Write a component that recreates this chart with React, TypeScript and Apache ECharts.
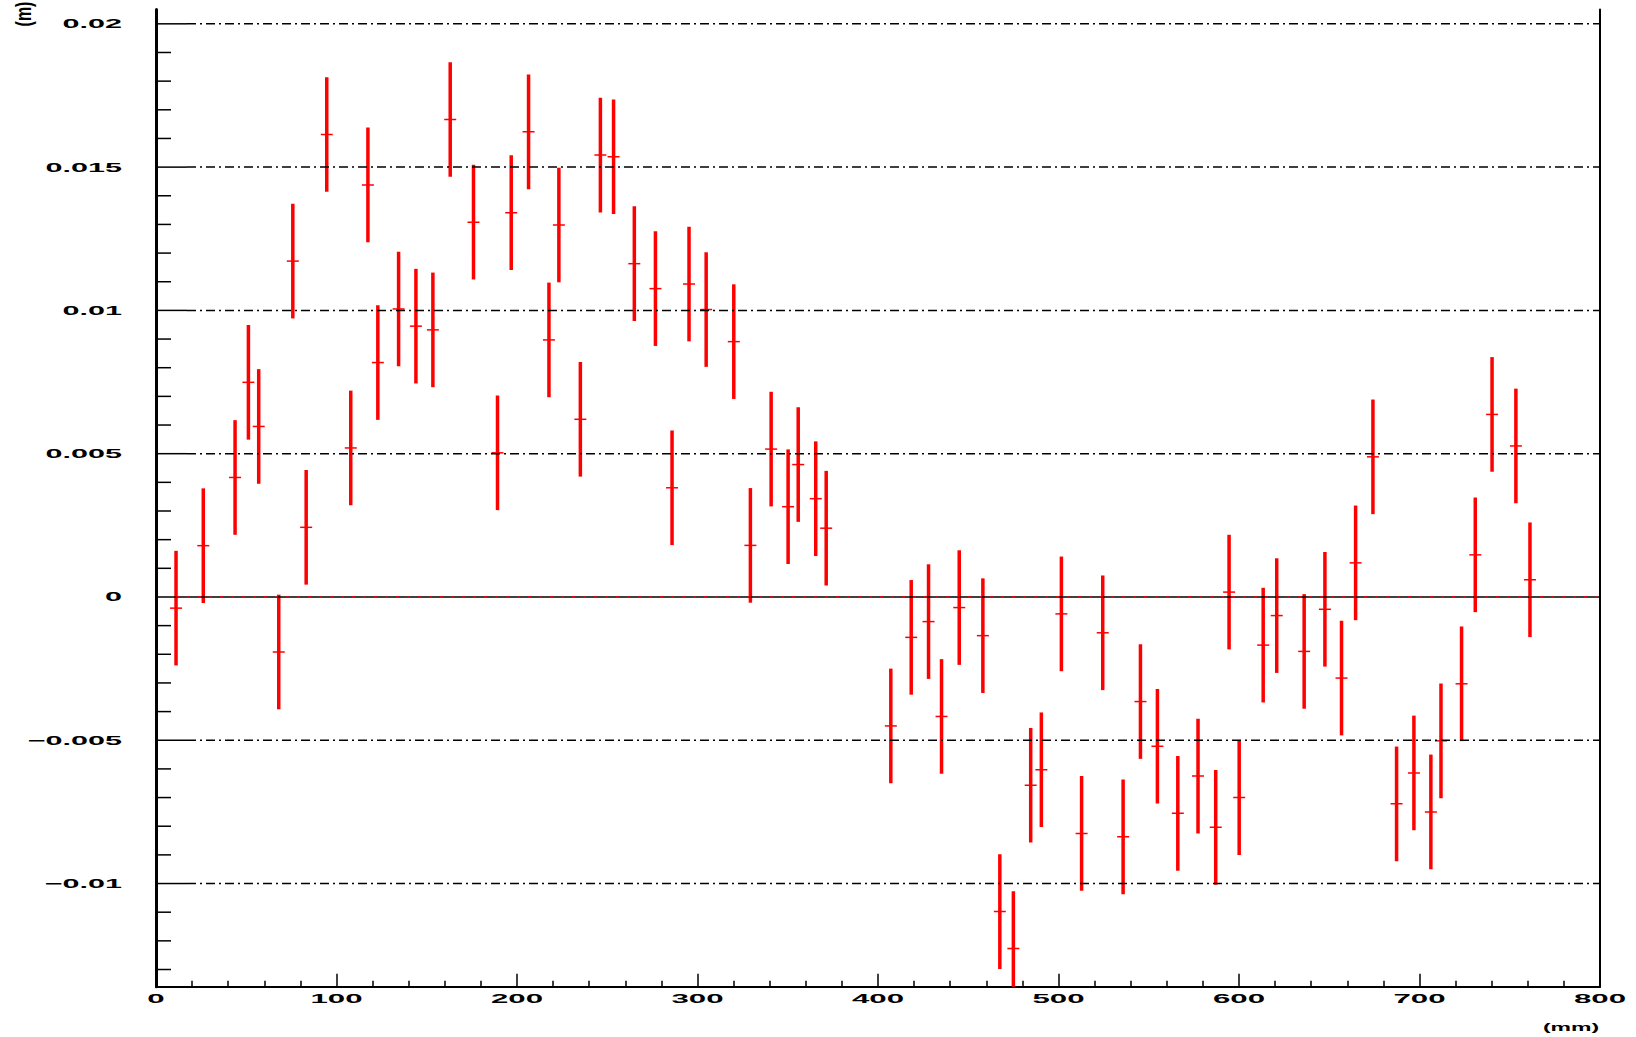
import React, { useEffect, useRef } from 'react';
import * as echarts from 'echarts';

// ---- axis ranges ----
const X_MIN = 0;
const X_MAX = 800;
const Y_MIN = -0.0136;
const Y_MAX = 0.0205;

// ---- tick values / labels ----
const xTickValues = [0, 100, 200, 300, 400, 500, 600, 700, 800];
const xTickLabels = ['0', '100', '200', '300', '400', '500', '600', '700', '800'];
const yMajorTicks = [-0.01, -0.005, 0, 0.005, 0.01, 0.015, 0.02];
const yTickLabels = ['\u22120.01', '\u22120.005', '0', '0.005', '0.01', '0.015', '0.02'];
const yMinorTicks = [
  -0.013, -0.012, -0.011, -0.009, -0.008, -0.007, -0.006, -0.004, -0.003, -0.002, -0.001,
  0.001, 0.002, 0.003, 0.004, 0.006, 0.007, 0.008, 0.009, 0.011, 0.012, 0.013, 0.014,
  0.016, 0.017, 0.018, 0.019,
];

// ---- data ----
const xPositions = [
  11.1, 26.2, 43.8, 51.2, 56.9, 68.0, 75.8, 83.2, 94.6, 107.9, 117.4, 122.9, 134.4, 144.0, 153.4,
  163.0, 175.9, 189.2, 196.8, 206.4, 217.7, 223.2, 235.1, 246.2, 253.5, 265.0, 276.7, 285.9, 295.3, 304.8, 320.1,
  329.3, 340.8, 350.2, 355.8, 365.5, 371.3, 407.1, 418.4, 428.0, 435.2, 445.0, 458.1,
  467.5, 475.0, 484.6, 490.5, 501.6, 512.8, 524.5, 535.8, 545.4, 554.8, 566.1, 577.3, 587.1, 594.5, 600.1,
  613.4, 620.9, 636.1, 647.6, 656.8, 664.6, 674.2, 687.3, 696.9, 706.3, 711.9, 723.3, 730.9, 740.2, 753.4, 761.2,
];
const yValues = [
  -0.00039, 0.00179, 0.00417, 0.00749, 0.00595, -0.00192, 0.01172, 0.00243, 0.01614, 0.0052, 0.01438, 0.00818, 0.01005, 0.00945, 0.00932,
  0.01666, 0.01308, 0.00503, 0.01341, 0.01623, 0.00897, 0.01298, 0.0062, 0.01542, 0.01536, 0.01163, 0.01076, 0.00381, 0.01092, 0.01003, 0.00891,
  0.0018, 0.00516, 0.00315, 0.00462, 0.00343, 0.0024, -0.0045, -0.00141, -0.00086, -0.00417, -0.00037, -0.00135,
  -0.01098, -0.01227, -0.00657, -0.00603, -0.00059, -0.00825, -0.00125, -0.00837, -0.00365, -0.00521, -0.00755, -0.00625, -0.00804, 0.00017, -0.007,
  -0.00168, -0.00065, -0.0019, -0.00043, -0.00283, 0.00119, 0.00489, -0.00722, -0.00614, -0.0075, -0.00502, -0.00303, 0.00147, 0.00637, 0.00527, 0.0006,
];
const yErrors = [
  0.002, 0.002, 0.002, 0.002, 0.002, 0.002, 0.002, 0.002, 0.002, 0.002, 0.002, 0.002, 0.002, 0.002, 0.002,
  0.002, 0.002, 0.002, 0.002, 0.002, 0.002, 0.002, 0.002, 0.002, 0.002, 0.002, 0.002, 0.002, 0.002, 0.002, 0.002,
  0.002, 0.002, 0.002, 0.002, 0.002, 0.002, 0.002, 0.002, 0.002, 0.002, 0.002, 0.002,
  0.002, 0.002, 0.002, 0.002, 0.002, 0.002, 0.002, 0.002, 0.002, 0.002, 0.002, 0.002, 0.002, 0.002, 0.002,
  0.002, 0.002, 0.002, 0.002, 0.002, 0.002, 0.002, 0.002, 0.002, 0.002, 0.002, 0.002, 0.002, 0.002, 0.002, 0.002,
];

const FONT = '"Liberation Sans", Arial, Helvetica, sans-serif';
const RED = '#ff0000';
const DASH = [9, 4, 2, 4];

export default function App() {
  const ref = useRef<HTMLDivElement>(null);

  useEffect(() => {
    if (!ref.current) return;
    const chart = echarts.init(ref.current, undefined, { renderer: 'svg' });

    const pointData = xPositions.map((x, i) => [x, yValues[i], yErrors[i]]);

    const option: any = {
      animation: false,
      backgroundColor: '#ffffff',
      grid: { left: 156, right: 36, top: 9.5, bottom: 50.3, containLabel: false },
      xAxis: {
        type: 'value',
        min: X_MIN,
        max: X_MAX,
        interval: 100,
        axisLine: { show: true, onZero: false, lineStyle: { color: '#000', width: 2 } },
        axisTick: { show: true, inside: true, length: 13, lineStyle: { color: '#000', width: 1.5 } },
        minorTick: { show: true, splitNumber: 5, length: 6, lineStyle: { color: '#000', width: 1.5 } },
        axisLabel: { show: false },
        splitLine: { show: false },
      },
      yAxis: [
        {
          type: 'value',
          min: Y_MIN,
          max: Y_MAX,
          position: 'left',
          axisLine: { show: true, onZero: false, lineStyle: { color: '#000', width: 3 } },
          axisTick: { show: false },
          axisLabel: { show: false },
          splitLine: { show: false },
        },
        {
          type: 'value',
          min: Y_MIN,
          max: Y_MAX,
          position: 'right',
          axisLine: { show: true, onZero: false, lineStyle: { color: '#000', width: 2 } },
          axisTick: { show: false },
          axisLabel: { show: false },
          splitLine: { show: false },
        },
      ],
      graphic: [
        {
          type: 'text',
          x: 23,
          y: 14,
          rotation: Math.PI / 2,
          scaleY: 1.4,
          style: {
            text: '(m)',
            fill: '#000',
            align: 'center',
            verticalAlign: 'middle',
            fontSize: 16,
            fontWeight: 'bold',
            fontFamily: FONT,
          },
        },
        {
          type: 'text',
          x: 1571,
          y: 1028,
          scaleX: 2.3,
          style: {
            text: '(mm)',
            fill: '#000',
            align: 'center',
            verticalAlign: 'middle',
            fontSize: 10,
            fontWeight: 'bold',
            fontFamily: FONT,
          },
        },
      ],
      series: [
        // error bars
        {
          type: 'custom',
          name: 'points',
          z: 2,
          clip: true,
          silent: true,
          encode: { x: 0, y: 1 },
          data: pointData,
          renderItem: (params: any, api: any) => {
            const x = api.value(0);
            const y = api.value(1);
            const e = api.value(2);
            const top = api.coord([x, y + e]);
            const bot = api.coord([x, y - e]);
            const mid = api.coord([x, y]);
            return {
              type: 'group',
              children: [
                {
                  type: 'line',
                  shape: { x1: top[0], y1: top[1], x2: bot[0], y2: bot[1] },
                  style: { stroke: RED, lineWidth: 3.5 },
                },
                {
                  type: 'line',
                  shape: { x1: mid[0] - 6, y1: mid[1], x2: mid[0] + 6, y2: mid[1] },
                  style: { stroke: RED, lineWidth: 1.5 },
                },
              ],
            };
          },
        },
        // y minor ticks
        {
          type: 'custom',
          name: 'yMinor',
          z: 3,
          silent: true,
          clip: false,
          encode: { x: 0, y: 1 },
          data: yMinorTicks.map((v) => [X_MIN, v]),
          renderItem: (params: any, api: any) => {
            const p = api.coord([api.value(0), api.value(1)]);
            return {
              type: 'line',
              shape: { x1: p[0], y1: p[1], x2: p[0] + 15, y2: p[1] },
              style: { stroke: '#000', lineWidth: 1.5 },
            };
          },
        },
        // y major ticks, grid lines and labels
        {
          type: 'custom',
          name: 'yMajor',
          z: 3,
          silent: true,
          clip: false,
          encode: { x: 0, y: 1 },
          data: yMajorTicks.map((v) => [X_MIN, v]),
          renderItem: (params: any, api: any) => {
            const v = api.value(1);
            const p0 = api.coord([X_MIN, v]);
            const p1 = api.coord([X_MAX, v]);
            const label = yTickLabels[params.dataIndex];
            const children: any[] = [];
            if (v === 0) {
              children.push({
                type: 'line',
                shape: { x1: p0[0], y1: p0[1], x2: p1[0], y2: p1[1] },
                style: { stroke: '#000', lineWidth: 1.5 },
              });
              children.push({
                type: 'line',
                shape: { x1: p0[0] + 20, y1: p0[1], x2: p1[0], y2: p1[1] },
                style: { stroke: RED, lineWidth: 1.2, lineDash: [3, 8] },
              });
            } else {
              children.push({
                type: 'line',
                shape: { x1: p0[0], y1: p0[1], x2: p0[0] + 31, y2: p0[1] },
                style: { stroke: '#000', lineWidth: 1.5 },
              });
              children.push({
                type: 'line',
                shape: { x1: p0[0] + 31, y1: p0[1], x2: p1[0], y2: p1[1] },
                style: { stroke: '#000', lineWidth: 1.5, lineDash: DASH },
              });
            }
            children.push({
              type: 'text',
              x: p0[0] - 34,
              y: p0[1],
              scaleX: 2.35,
              style: {
                text: label,
                x: 0,
                y: 0,
                fill: '#000',
                align: 'right',
                verticalAlign: 'middle',
                fontSize: 13,
                fontWeight: 'bold',
                fontFamily: FONT,
              },
            });
            return { type: 'group', children };
          },
        },
        // x labels
        {
          type: 'custom',
          name: 'xLabels',
          z: 3,
          silent: true,
          clip: false,
          encode: { x: 0, y: 1 },
          data: xTickValues.map((v) => [v, Y_MIN]),
          renderItem: (params: any, api: any) => {
            const p = api.coord([api.value(0), api.value(1)]);
            return {
              type: 'text',
              x: p[0],
              y: p[1] + 12,
              scaleX: 2.4,
              style: {
                text: xTickLabels[params.dataIndex],
                x: 0,
                y: 0,
                fill: '#000',
                align: 'center',
                verticalAlign: 'middle',
                fontSize: 13,
                fontWeight: 'bold',
                fontFamily: FONT,
              },
            };
          },
        },
      ],
    };

    chart.setOption(option);
    return () => {
      chart.dispose();
    };
  }, []);

  return (
    <div
      ref={ref}
      style={{ position: 'fixed', left: 0, top: 0, width: 1636, height: 1037, background: '#fff' }}
    />
  );
}
